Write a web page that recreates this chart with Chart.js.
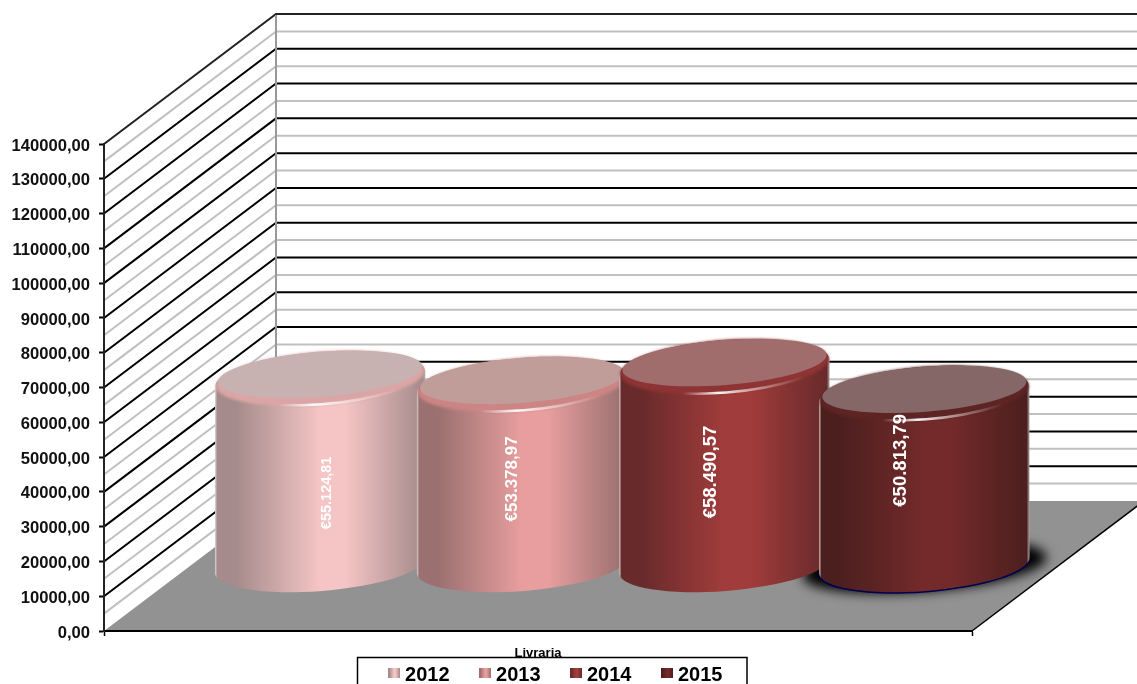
<!DOCTYPE html>
<html>
<head>
<meta charset="utf-8">
<title>Livraria</title>
<script src="https://cdn.jsdelivr.net/npm/chart.js@4/dist/chart.umd.min.js"></script>
<style>
  html, body { margin: 0; padding: 0; background: #fff; overflow: hidden; }
  canvas { display: block; }
</style>
</head>
<body>
<canvas id="myChart" width="1137" height="684"></canvas>
<script>
const categories = ["Livraria"];
const years = ["2012", "2013", "2014", "2015"];
const livraria = [55124.81, 53378.97, 58490.57, 50813.79];

const yMax = 140000;
const yStep = 10000;

// offset of the back wall from the front of the floor
const depthX = 172;
const depthY = 130;
// the cylinders stand about half way back
const barDepthX = 82;
const barDepthY = 65;
// slightly wider than their slot, each one overlaps the previous
const barGrow = 4;

const tilt = -4.5 * Math.PI / 180;

const cylinderStyles = [
    { edge: "#a58b8b", mid: "#f5c5c5", rim: "#dba5a5", top: "#c8b1b1", shift: 4.5, labelSize: 14.5, labelDx: 11, labelDy: 23, shadow: false },
    { edge: "#9a7070", mid: "#e89e9e", rim: "#cc8484", top: "#c09d99", shift: 3.5, labelSize: 17, labelDx: -6, labelDy: 6, shadow: false },
    { edge: "#682a2a", mid: "#a13c3c", rim: "#8e3434", top: "#a06c6c", shift: 3, labelSize: 18.5, labelDx: -11, labelDy: 8, shadow: false },
    { edge: "#4c1f1f", mid: "#742a2a", rim: "#5e2424", top: "#856767", shift: 0, labelSize: 18.5, labelDx: -23, labelDy: -17, shadow: true }
];

function formatTick(value) {
    return value.toFixed(2).replace(".", ",");
}

function formatEuro(value) {
    const [whole, cents] = value.toFixed(2).split(".");
    return "€" + whole.replace(/\B(?=(\d{3})+$)/g, ".") + "," + cents;
}

function drawWalls(chart) {
    const { ctx, chartArea, scales } = chart;
    const { left, right, bottom } = chartArea;
    const yScale = scales.y;
    const topY = yScale.getPixelForValue(yMax);

    ctx.save();
    ctx.fillStyle = "#fff";
    ctx.fillRect(0, 0, chart.width, chart.height);

    const gridLine = (value, color, width) => {
        const py = yScale.getPixelForValue(value);
        ctx.strokeStyle = color;
        ctx.lineWidth = width;
        ctx.beginPath();
        ctx.moveTo(left, py);
        ctx.lineTo(left + depthX, py - depthY);
        ctx.lineTo(chart.width, py - depthY);
        ctx.stroke();
    };

    for (let v = yStep / 2; v < yMax; v += yStep) {
        gridLine(v, "#c0c0c0", 2);
    }
    for (let v = yStep; v <= yMax; v += yStep) {
        gridLine(v, v === yMax ? "#222" : "#000", 2);
    }

    ctx.strokeStyle = "#999";
    ctx.lineWidth = 2;
    ctx.beginPath();
    ctx.moveTo(left + depthX, topY - depthY + 1);
    ctx.lineTo(left + depthX, bottom - depthY);
    ctx.stroke();

    // floor
    ctx.fillStyle = "#929292";
    ctx.beginPath();
    ctx.moveTo(left, bottom);
    ctx.lineTo(right, bottom);
    ctx.lineTo(right + depthX, bottom - depthY);
    ctx.lineTo(left + depthX, bottom - depthY);
    ctx.closePath();
    ctx.fill();

    ctx.strokeStyle = "#000";
    ctx.lineWidth = 1.5;
    ctx.beginPath();
    ctx.moveTo(right, bottom);
    ctx.lineTo(right + depthX, bottom - depthY);
    ctx.stroke();
    ctx.restore();
}

function materialFill(ctx, x0, x1, style) {
    const fill = ctx.createLinearGradient(x0, 0, x1, 0);
    fill.addColorStop(0, "#e8e0e0");
    fill.addColorStop(0.012, style.edge);
    fill.addColorStop(0.1, style.edge);
    fill.addColorStop(0.5, style.mid);
    fill.addColorStop(0.62, style.mid);
    fill.addColorStop(0.985, style.edge);
    fill.addColorStop(1, "#b8b0b0");
    return fill;
}

function drawShadow(ctx, bar, style) {
    if (!style.shadow) return;
    const cx = bar.x + barDepthX + style.shift;
    const baseY = bar.base - barDepthY;
    const rx = bar.width / 2 + barGrow;

    ctx.save();
    ctx.filter = "blur(6px)";
    ctx.fillStyle = "#000";
    ctx.beginPath();
    ctx.ellipse(cx, baseY + 1, rx + 17, 25, tilt, 0, Math.PI * 2);
    ctx.fill();
    ctx.filter = "none";
    ctx.fillStyle = "#000050";
    ctx.beginPath();
    ctx.ellipse(cx, baseY + 1.5, rx + 0.5, 25.5, tilt, 0, Math.PI * 2);
    ctx.fill();
    ctx.restore();
}

function drawCylinder(ctx, bar, style) {
    const cx = bar.x + barDepthX + style.shift;
    const topY = bar.y - barDepthY;
    const baseY = bar.base - barDepthY;
    const rx = bar.width / 2 + barGrow;
    const rimY = topY + 5;

    ctx.save();
    ctx.fillStyle = materialFill(ctx, cx - rx, cx + rx, style);
    ctx.beginPath();
    ctx.ellipse(cx, baseY, rx, 25.5, tilt, 0, Math.PI);
    ctx.ellipse(cx, rimY, rx, 27.5, tilt, Math.PI, 0);
    ctx.closePath();
    ctx.fill();

    // bevel between the side and the top face
    ctx.save();
    ctx.filter = "blur(1.5px)";
    ctx.fillStyle = style.rim;
    ctx.beginPath();
    ctx.ellipse(cx, rimY - 1, rx - 1, 26.5, tilt, 0, Math.PI * 2);
    ctx.fill();
    ctx.restore();

    const glint = ctx.createLinearGradient(cx - rx * 0.4, 0, cx + rx * 0.75, 0);
    glint.addColorStop(0, "rgba(255,255,255,0)");
    glint.addColorStop(0.3, "rgba(255,255,255,0.95)");
    glint.addColorStop(0.5, "rgba(255,255,255,0.6)");
    glint.addColorStop(1, "rgba(255,255,255,0)");
    ctx.save();
    ctx.filter = "blur(0.6px)";
    ctx.strokeStyle = glint;
    ctx.lineWidth = 2.5;
    ctx.beginPath();
    ctx.ellipse(cx, rimY - 1, rx - 4, 26, tilt, 0.2, Math.PI - 0.2);
    ctx.stroke();
    ctx.restore();

    ctx.save();
    ctx.filter = "blur(0.7px)";
    ctx.fillStyle = style.top;
    ctx.beginPath();
    ctx.ellipse(cx, topY, rx - 3, 22.5, tilt, 0, Math.PI * 2);
    ctx.fill();
    ctx.restore();

    ctx.restore();
}

function drawValueLabel(ctx, bar, style, value) {
    const cx = bar.x + barDepthX;
    const midY = (bar.y + bar.base) / 2 - barDepthY;
    ctx.save();
    ctx.translate(cx + style.labelDx, midY + style.labelDy);
    ctx.rotate(-Math.PI / 2);
    ctx.font = "bold " + style.labelSize + "px 'Liberation Sans', Arial, sans-serif";
    ctx.textAlign = "center";
    ctx.textBaseline = "middle";
    ctx.fillStyle = "#fff";
    ctx.fillText(formatEuro(value), 0, 0);
    ctx.restore();
}

const cylinderPlugin = {
    id: "cylinders",
    beforeDraw(chart) {
        drawWalls(chart);
    },
    afterLayout(chart) {
        // legend sits off-centre and runs past the bottom of the picture
        const legend = chart.legend;
        legend.left = 0;
        legend.right = 1110.5;
        legend.top = 635.5;
        legend.bottom = 690;
    },
    beforeDatasetsDraw(chart) {
        const { ctx } = chart;
        const bars = chart.data.datasets.map((dataset, i) => chart.getDatasetMeta(i).data[0]);
        bars.forEach((bar, i) => drawShadow(ctx, bar, cylinderStyles[i]));
        bars.forEach((bar, i) => drawCylinder(ctx, bar, cylinderStyles[i]));
        bars.forEach((bar, i) => drawValueLabel(ctx, bar, cylinderStyles[i], chart.data.datasets[i].data[0]));
        return false;
    },
    afterDraw(chart) {
        const { ctx } = chart;
        ctx.save();
        // legend swatches are wider than the text gap chart.js leaves, so they go in here
        cylinderStyles.forEach((style, i) => {
            const x = 388 + 91 * i;
            ctx.fillStyle = materialFill(ctx, x, x + 12, style);
            ctx.fillRect(x, 668, 12, 10);
        });
        ctx.strokeStyle = "#000";
        ctx.lineWidth = 1.5;
        ctx.strokeRect(357.5, 657.5, 389.5, 60);
        ctx.restore();
    }
};

const fontFamily = "'Liberation Sans', Arial, sans-serif";

new Chart(document.getElementById("myChart"), {
    type: "bar",
    plugins: [cylinderPlugin],
    data: {
        labels: categories,
        datasets: years.map((year, i) => ({
            label: year,
            data: [livraria[i]],
            backgroundColor: "transparent"
        }))
    },
    options: {
        responsive: false,
        animation: false,
        devicePixelRatio: 1,
        categoryPercentage: 0.935,
        barPercentage: 1,
        layout: {
            autoPadding: false,
            padding: { top: 144, right: 165, left: 0, bottom: 0 }
        },
        scales: {
            x: {
                afterFit(scale) { scale.height = 29; },
                grid: { offset: true, drawOnChartArea: false, tickLength: 5, tickColor: "#000", tickWidth: 1.5 },
                border: { color: "#000", width: 2 },
                ticks: {
                    color: "#000",
                    padding: 10,
                    font: { family: fontFamily, size: 13, weight: "bold" }
                }
            },
            y: {
                min: 0,
                max: yMax,
                afterFit(scale) { scale.width = 104; },
                grid: { drawOnChartArea: false, tickLength: 5, tickColor: "#000", tickWidth: 2 },
                border: { color: "#222", width: 2 },
                ticks: {
                    stepSize: yStep,
                    color: "#111",
                    padding: 9,
                    labelOffset: 2,
                    font: { family: fontFamily, size: 16.6, weight: "bold" },
                    callback: value => formatTick(value)
                }
            }
        },
        plugins: {
            title: { display: false },
            tooltip: { enabled: false },
            legend: {
                position: "bottom",
                maxHeight: 24,
                labels: {
                    color: "#000",
                    boxWidth: 7,
                    boxHeight: 10,
                    padding: 29.5,
                    font: { family: fontFamily, size: 20, weight: "bold" }
                }
            }
        }
    }
});
</script>
</body>
</html>
